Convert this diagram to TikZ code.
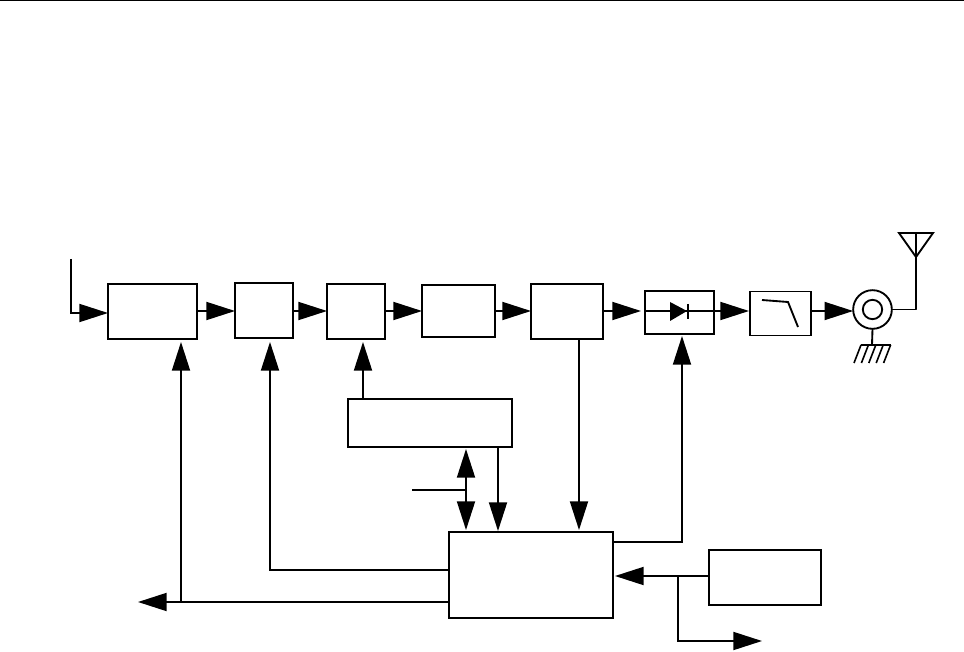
\documentclass[tikz,border=0pt]{standalone}
\usetikzlibrary{arrows.meta,calc}
\tikzset{
  blk/.style={draw,line width=1.4pt,rectangle,inner sep=0pt,outer sep=0pt},
  wire/.style={line width=1.4pt},
  arr/.style={line width=1.4pt,-{Triangle[length=21.5pt,width=13.5pt]}},
  darr/.style={line width=1.4pt,{Triangle[length=21.5pt,width=13.5pt]}-{Triangle[length=21.5pt,width=13.5pt]}},
}
\begin{document}
\begin{tikzpicture}[x=0.75pt,y=-0.75pt]
\useasboundingbox (0,0) rectangle (964,652);
\fill[white] (0,0) rectangle (964,652);
\coordinate (topl) at (0,0.7); \coordinate (topr) at (964,0.7);
\draw[line width=1.2pt] (topl) -- (topr);
% boxes
\node[blk,minimum width=66.75pt,minimum height=41.25pt] (a) at (152.5,311.5) {};
\node[blk,minimum width=43.5pt,minimum height=41.25pt] (b) at (264,310.5) {};
\node[blk,minimum width=43.5pt,minimum height=41.25pt] (c) at (356,311.5) {};
\node[blk,minimum width=54.75pt,minimum height=39pt] (d) at (458.5,311) {};
\node[blk,minimum width=54pt,minimum height=41.25pt] (e) at (567,311.5) {};
\node[blk,minimum width=51.75pt,minimum height=32.25pt] (f) at (679.5,312.5) {};
\node[blk,minimum width=45.75pt,minimum height=33pt] (g) at (780.5,313.5) {};
\node[blk,minimum width=123pt,minimum height=36pt] (ctl) at (430,423) {};
\node[blk,minimum width=123pt,minimum height=64.5pt] (m) at (531,575) {};
\node[blk,minimum width=84pt,minimum height=41.25pt] (r) at (765,577.5) {};
\node[circle,draw,line width=1.4pt,minimum size=29pt,inner sep=0pt,outer sep=0pt] (con) at (872.5,309.5) {};
\node[circle,draw,line width=1.4pt,minimum size=14.5pt,inner sep=0pt,outer sep=0pt] (coni) at (872.5,309.5) {};
% input
\coordinate (in) at (71,259);
\draw[arr] (in) |- (a.west |- 0,313);
% chain
\draw[arr] (a.east |- 0,311) -- (b.west |- 0,311);
\draw[arr] (b.east |- 0,311) -- (c.west |- 0,311);
\draw[arr] (c.east |- 0,311) -- (d.west |- 0,311);
\draw[arr] (d.east |- 0,311) -- (e.west |- 0,311);
\draw[arr] (e.east |- 0,311) -- ($(f.west |- 0,311)+(-4,0)$);
\draw[arr] (f.east |- 0,311) -- ($(g.west |- 0,311)+(-1,0)$);
\draw[arr] (g.east |- 0,311) -- (con.west |- 0,311);
% diode
\draw[wire] (f.west |- 0,311) -- (f.east |- 0,311);
\coordinate (da) at (670,302); \coordinate (db) at (670,321); \coordinate (dc) at (687,311);
\fill (da) -- (db) -- (dc) -- cycle;
\coordinate (ba) at (688,304); \coordinate (bb) at (688,319);
\draw[wire] (ba) -- (bb);
% filter symbol
\coordinate (fa) at (762,300); \coordinate (fb) at (788,302); \coordinate (fc) at (798,327);
\draw[wire] (fa) -- (fb) -- (fc);
% antenna
\coordinate (ant) at (916,257);
\coordinate (antl) at (899,233); \coordinate (antr) at (933,233); \coordinate (antm) at (916,233);
\draw[wire,line join=round] (con.east) -| (ant);
\draw[wire,line join=miter] (antl) -- (antr) -- (ant) -- cycle;
\draw[wire] (antm) -- (ant);
% ground
\coordinate (gnd) at (872,345);
\draw[wire] (con.south) -- (gnd);
\coordinate (gl) at (861,345); \coordinate (gr) at (891,345);
\draw[wire] (gl) -- (gr);
\foreach \i in {0,1,2,3,4}{
  \draw[line width=1.2pt] ($(gl)+(\i*7.4,0)$) -- ++(-7,18);
}
% control lines
\coordinate (m1) at (181,602);
\coordinate (outl) at (138,602);
\draw[arr] (m.west |- m1) -- (outl);
\draw[arr] (m1) -- (m1 |- 0,342);
\coordinate (m2) at (270,570);
\draw[arr] (m.west |- m2) -| (270,342);
\draw[arr] (ctl.north -| 363,0) -- (363,342);
\draw[darr] (466,449) -- (466,530);
\coordinate (stub) at (412,490);
\draw[wire] (stub) -- (466,490);
\draw[arr] (ctl.south -| 498,0) -- (498,531);
\draw[arr] (e.south -| 579,0) -- (579,530);
\draw[arr] (m.east |- 0,542) -| (682,336);
\coordinate (j) at (678,576);
\draw[arr] (r.west |- j) -- (615,576);
\coordinate (outr) at (762,641);
\draw[arr] (j) |- (outr);
\end{tikzpicture}
\end{document}
